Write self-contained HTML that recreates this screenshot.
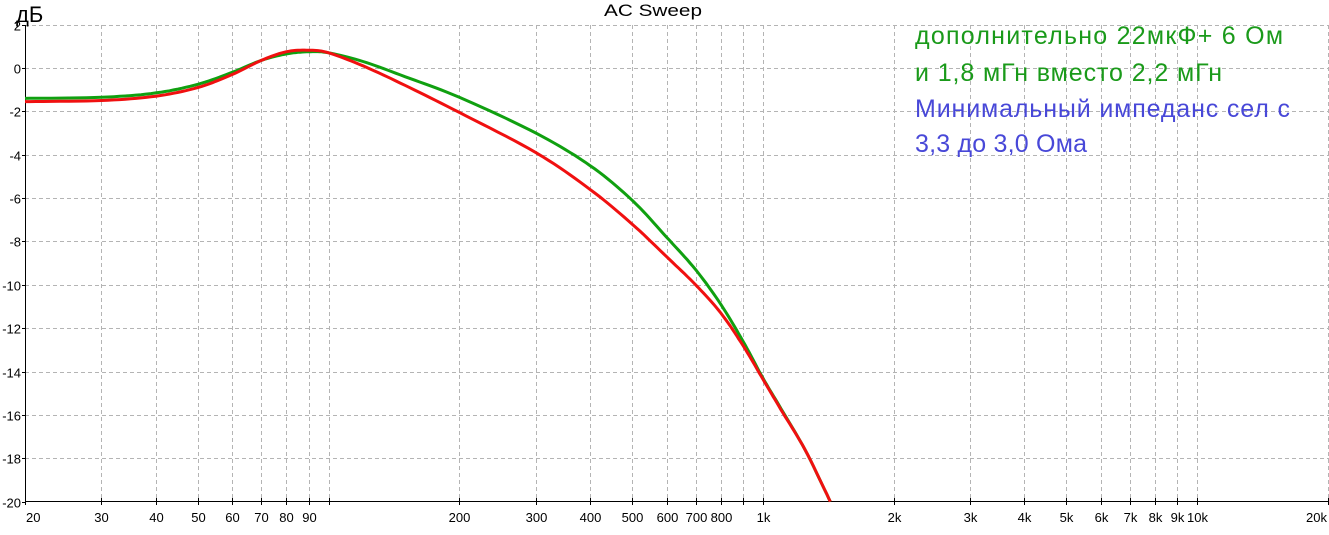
<!DOCTYPE html>
<html><head><meta charset="utf-8"><style>
body{margin:0;background:#fff;width:1329px;height:530px;overflow:hidden}
svg text{font-family:"Liberation Sans",sans-serif}
</style></head><body>
<svg id="s" width="1329" height="530" xmlns="http://www.w3.org/2000/svg">
<rect width="1329" height="530" fill="#fff"/>
<g id="grid" stroke="#b4b4b4" stroke-dasharray="4,3" stroke-width="1"></g>
<g id="lbl" font-size="13" fill="#000"></g>
<line x1="25.5" y1="25" x2="25.5" y2="502" stroke="#000"/>
<line x1="25" y1="501.5" x2="1329" y2="501.5" stroke="#000"/>
<g id="ticks" stroke="#000"></g>
<text x="604" y="16" font-size="17" textLength="98" lengthAdjust="spacingAndGlyphs">AC Sweep</text>
<text x="16" y="22" font-size="22">дБ</text>
<path id="g" fill="none" stroke="#10a010" stroke-width="3"/>
<path id="r" fill="none" stroke="#f01010" stroke-width="3"/>
<g font-size="25" lengthAdjust="spacingAndGlyphs">
<text x="915" y="44" fill="#1a9a1a" textLength="368">дополнительно 22мкФ+ 6 Ом</text>
<text x="915" y="81" fill="#1a9a1a" textLength="307">и 1,8 мГн вместо 2,2 мГн</text>
<text x="915" y="117" fill="#4848d8" textLength="375">Минимальный импеданс сел с</text>
<text x="915" y="152" fill="#4848d8" textLength="172">3,3 до 3,0 Ома</text>
</g>
</svg>
<script>
const X=f=>25+434.3*Math.log10(f/20), Y=d=>68-d*21.68;
const NS="http://www.w3.org/2000/svg";
function el(p,t,a,txt){const e=document.createElementNS(NS,t);for(const k in a)e.setAttribute(k,a[k]);if(txt)e.textContent=txt;document.getElementById(p).appendChild(e);}
const fs=[];[10,100,1000,10000].forEach(m=>{for(let i=1;i<10;i++){const f=i*m;if(f>=20&&f<=20000)fs.push(f);}});
fs.forEach(f=>{const x=Math.round(X(f))+.5;if(f>20)el('grid','line',{x1:x,y1:25,x2:x,y2:501});
el('ticks','line',{x1:x,y1:498,x2:x,y2:505});
if(f!=100&&f!=900){let t=f>=1000?(f/1000)+'k':''+f;let a={x:x,y:522,'text-anchor':'middle'};
if(f==20)a={x:26,y:522,'text-anchor':'start'};if(f==20000)a={x:1327,y:522,'text-anchor':'end'};
el('lbl','text',a,t);}});
for(let d=2;d>=-20;d-=2){const y=Math.round(Y(d))+.5;if(d>-20)el('grid','line',{x1:25,y1:y,x2:1329,y2:y});
el('ticks','line',{x1:22,y1:y,x2:26,y2:y});el('lbl','text',{x:21,y:y+5,'text-anchor':'end'},''+d);}
function path(pts){const P=pts.map(p=>[X(p[0]),Y(p[1])]);let s='M'+P[0][0]+','+P[0][1];
for(let i=0;i<P.length-1;i++){const p0=P[Math.max(0,i-1)],p1=P[i],p2=P[i+1],p3=P[Math.min(P.length-1,i+2)];
for(let t=0.1;t<=1.001;t+=0.1){const t2=t*t,t3=t2*t;
const c=k=>0.5*((2*p1[k])+(-p0[k]+p2[k])*t+(2*p0[k]-5*p1[k]+4*p2[k]-p3[k])*t2+(-p0[k]+3*p1[k]-3*p2[k]+p3[k])*t3);
s+=' L'+c(0).toFixed(1)+','+c(1).toFixed(1);}}return s;}
const G=[[20,-1.4],[30,-1.35],[40,-1.15],[50,-0.75],[60,-0.2],[70,0.35],[80,0.65],[90,0.75],[100,0.7],[120,0.3],[150,-0.4],[200,-1.35],[300,-3.0],[400,-4.5],[500,-6.1],[600,-7.8],[700,-9.3],[800,-10.9],[900,-12.6],[1000,-14.3],[1100,-15.7],[1250,-17.6],[1430,-20]];
const R=[[20,-1.55],[30,-1.5],[40,-1.3],[50,-0.9],[60,-0.3],[70,0.35],[80,0.75],[90,0.82],[100,0.7],[120,0.1],[150,-0.8],[200,-2.05],[300,-3.9],[400,-5.6],[500,-7.2],[600,-8.7],[700,-10.0],[800,-11.3],[900,-12.8],[1000,-14.35],[1100,-15.75],[1250,-17.6],[1430,-20]];
document.getElementById('g').setAttribute('d',path(G));
document.getElementById('r').setAttribute('d',path(R));
</script>
</body></html>
